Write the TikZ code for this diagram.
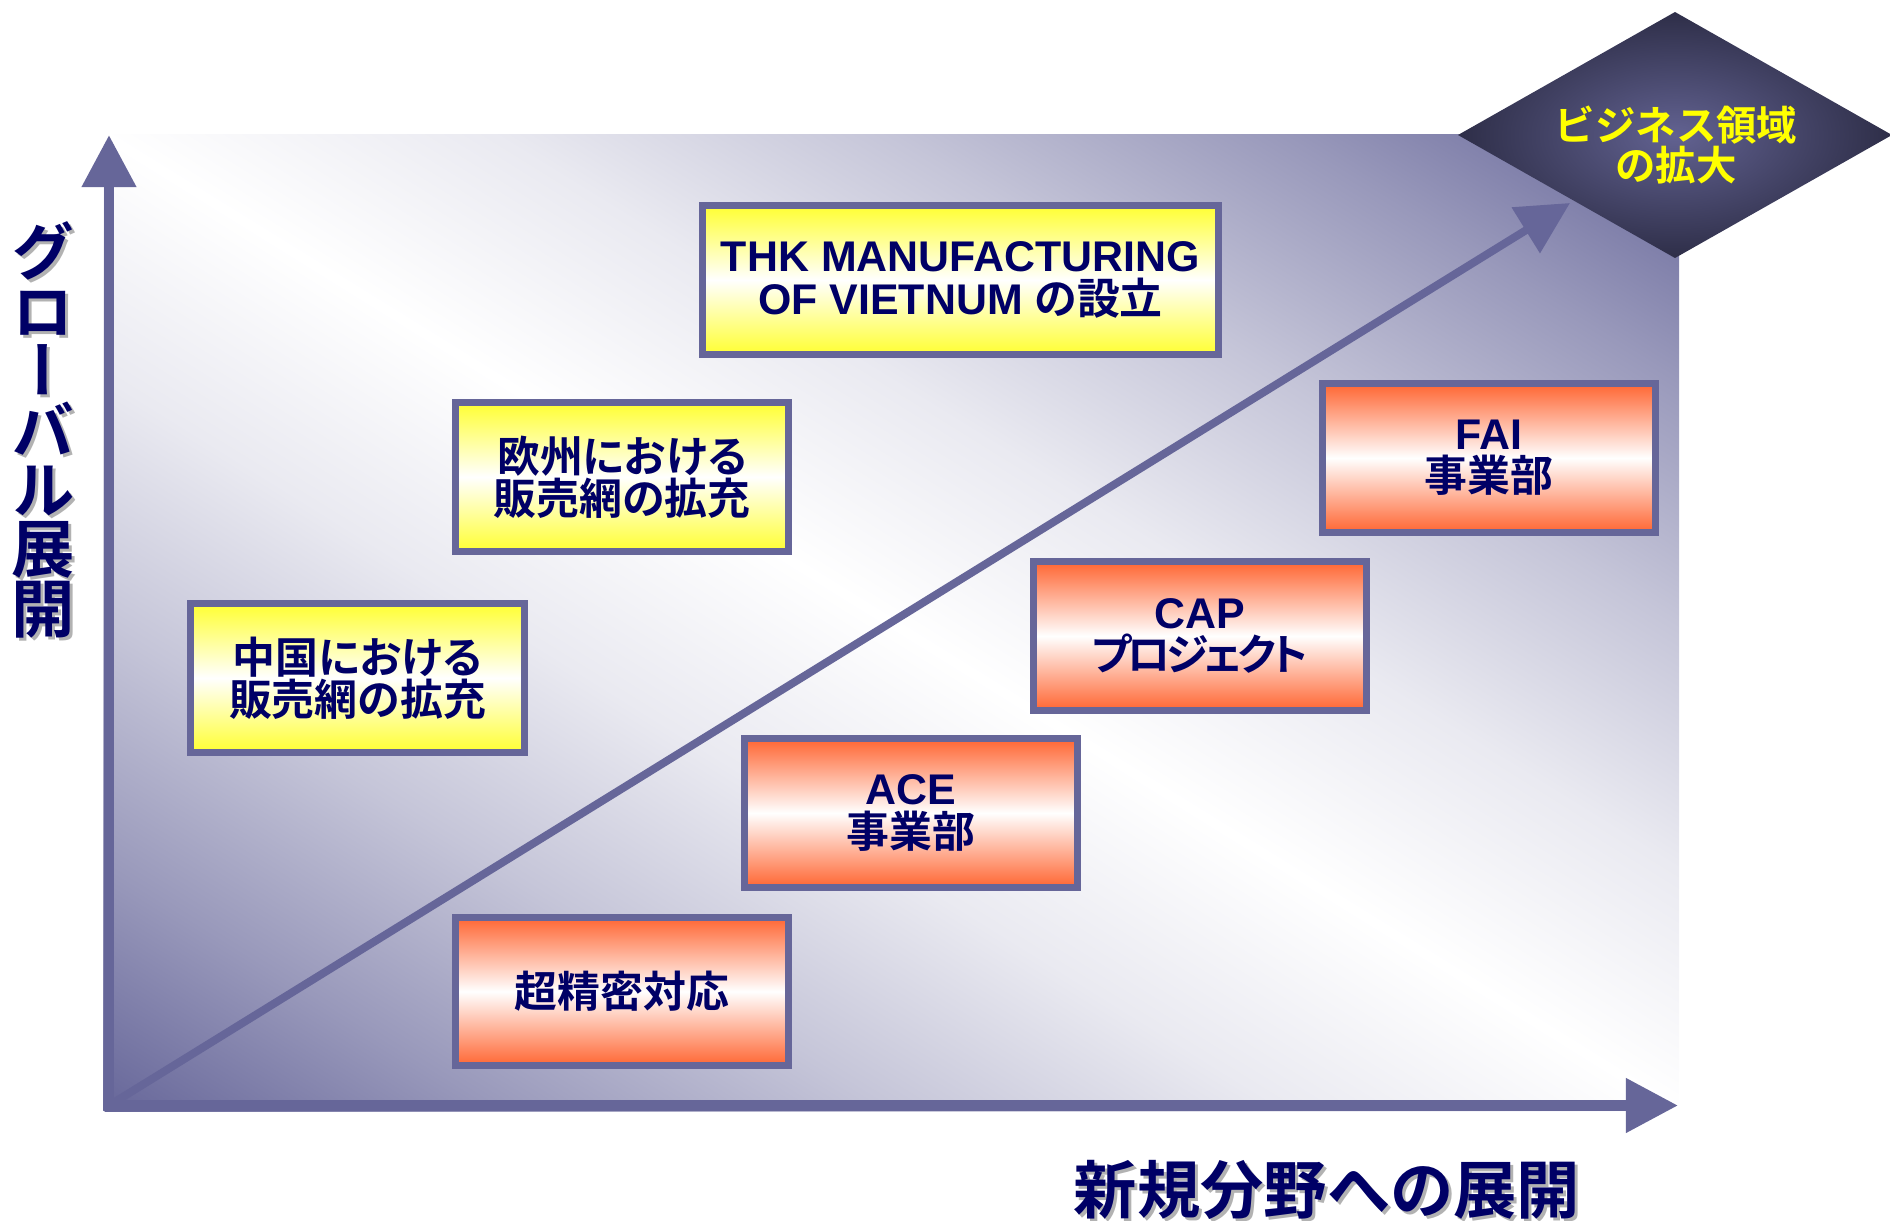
\documentclass[tikz,border=0pt]{standalone}
\usepackage{fontspec}
\setmainfont{Liberation Sans}
\newfontfamily\jp{Noto Sans CJK JP}[BoldFont={Noto Sans CJK JP Bold}]
\newfontfamily\jpbox{Noto Sans CJK JP}[BoldFont={Noto Sans CJK JP Bold},RawFeature=+palt]
\newfontfamily\jpnarrow{Noto Sans CJK JP}[BoldFont={Noto Sans CJK JP Bold},RawFeature=+palt,LetterSpace=-10]
\newfontfamily\jpvert{Noto Sans CJK JP}[BoldFont={Noto Sans CJK JP Bold},RawFeature=+vert]
\usepackage{tikz}
\usetikzlibrary{arrows.meta,positioning}
\usepackage{xcolor}
\definecolor{axis-blue}{RGB}{102,102,153}
\definecolor{text-navy}{RGB}{0,0,102}
\definecolor{box-yellow}{RGB}{255,255,51}
\definecolor{box-orange}{RGB}{255,102,51}
\definecolor{goal-dark}{RGB}{46,46,72}
\definecolor{goal-light}{RGB}{98,98,145}
\definecolor{goal-yellow}{RGB}{255,255,0}
\definecolor{shadow-gray}{RGB}{178,178,178}
\colorlet{bg-1}{axis-blue!67!white}
\colorlet{bg-2}{axis-blue!38!white}
\colorlet{bg-3}{axis-blue!14!white}
\pgfdeclareverticalshading{background}{100bp}{color(0bp)=(axis-blue); color(25bp)=(axis-blue); color(31.25bp)=(bg-1); color(37.5bp)=(bg-2); color(43.75bp)=(bg-3); color(50bp)=(white); color(56.25bp)=(bg-3); color(62.5bp)=(bg-2); color(68.75bp)=(bg-1); color(75bp)=(axis-blue); color(100bp)=(axis-blue)}
\newcommand{\boxfont}{\fontsize{12.2}{12}\selectfont\bfseries\lineskiplimit=-\maxdimen}
\newcommand{\axisfont}{\fontsize{18}{18}\selectfont\bfseries\jp}
\newcommand{\vertfont}{\fontsize{18}{16.9}\selectfont\bfseries\jpvert\lineskiplimit=-\maxdimen}
\newcommand{\goalfont}{\fontsize{11.5}{11.4}\selectfont\bfseries\jp\lineskiplimit=-\maxdimen}
\tikzstyle{axisline}=[draw=axis-blue, line width=3pt, line cap=rect, -{Triangle[length=0.52cm, width=0.52cm]}]
\tikzstyle{growthline}=[draw=axis-blue, line width=2.25pt, -{Triangle[length=0.52cm, width=0.52cm]}]
\tikzstyle{plainbox}=[draw=axis-blue, line width=0.07cm, minimum width=3.33cm, minimum height=1.48cm, inner sep=0pt, align=center, text=text-navy, font=\boxfont]
\tikzstyle{yellowbox}=[plainbox, top color=box-yellow, bottom color=box-yellow, middle color=white]
\tikzstyle{orangebox}=[plainbox, top color=box-orange, bottom color=box-orange, middle color=white]
\tikzstyle{axislabel}=[text=text-navy, font=\axisfont, align=center, inner sep=0pt]
\tikzstyle{axisshadow}=[axislabel, text=shadow-gray]
\tikzstyle{goaltext}=[text=goal-yellow, font=\goalfont, align=center, inner sep=0pt]

\begin{document}
\begin{tikzpicture}[x=0.01cm, y=-0.01cm]
	\useasboundingbox (0,0) rectangle (1890,1221);
	\begin{scope}
		\clip (103,134) rectangle (1679,1111);
		\shade[shading=background, transform canvas={shift={(891,622.5)}, rotate=-31.8}] (-1100,-830) rectangle (1100,830);
	\end{scope}
	\coordinate (origin) at (109,1105.5);
	\coordinate (ytip) at (109,135);
	\coordinate (xtip) at (1678,1105.5);
	\coordinate (growth) at (1570,203);
	\draw[axisline] (origin) -- (ytip);
	\draw[axisline] (origin) -- (xtip);
	\draw[growthline] (origin) -- (growth);
	\shade[inner color=goal-light, outer color=goal-dark] (1675,12) -- (1892,135) -- (1675,258) -- (1458,135) -- cycle;
	\node[goaltext] (goal) at (1676,145) {ビジネス領域\\の拡大};
	\node[yellowbox, minimum width=5.16cm] (vietnam) at (960.5,280) {THK MANUFACTURING\\OF VIETNUM {\jpbox の設立}};
	\node[yellowbox, font=\boxfont\jpbox] (europe) at (622,477) {欧州における\\販売網の拡充};
	\node[yellowbox, font=\boxfont\jpbox] (china) at (357.5,678) {中国における\\販売網の拡充};
	\node[orangebox, font=\boxfont\jpbox] (ultra) at (622,991.5) {超精密対応};
	\node[orangebox] (ace) at (911,813) {ACE\\{\jpbox 事業部}};
	\node[orangebox] (cap) at (1200,636) {CAP\\{\jpnarrow プロジェクト}};
	\node[orangebox] (fai) at (1489,458) {FAI\\{\jpbox 事業部}};
	\node[axisshadow, font=\vertfont] (ylabel-shadow) at (46,433) {グ\\ロ\\ー\\バ\\ル\\展\\開};
	\node[axislabel, font=\vertfont] (ylabel) at (43,430) {グ\\ロ\\ー\\バ\\ル\\展\\開};
	\node[axisshadow] (xlabel-shadow) at (1330,1193) {新規分野への展開};
	\node[axislabel] (xlabel) at (1327,1190) {新規分野への展開};
\end{tikzpicture}
\end{document}
